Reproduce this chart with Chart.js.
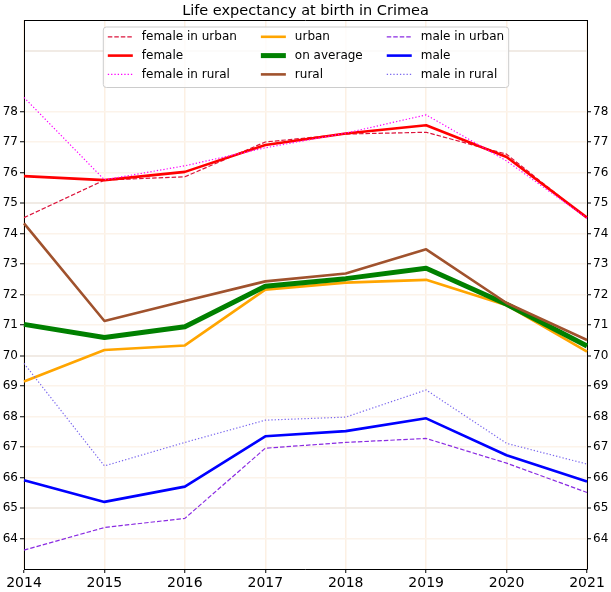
<!DOCTYPE html>
<html>
<head>
<meta charset="utf-8">
<script src="https://cdn.jsdelivr.net/npm/chart.js@4"></script>
<style>
  body { margin: 0; background: #fff; }
  #wrap { width: 611px; height: 592px; }
</style>
</head>
<body>
<div id="wrap"><canvas id="lifeChart" width="611" height="592"></canvas></div>
<script>
const years = ['2014', '2015', '2016', '2017', '2018', '2019', '2020', '2021'];

const femaleUrban = [74.52, 75.75, 75.86, 77.00, 77.26, 77.32, 76.60, 74.50];
const female      = [75.88, 75.75, 76.02, 76.90, 77.28, 77.55, 76.51, 74.52];
const femaleRural = [78.46, 75.76, 76.22, 76.81, 77.29, 77.89, 76.38, 74.50];
const urban       = [69.15, 70.18, 70.33, 72.16, 72.39, 72.48, 71.65, 70.13];
const average     = [71.02, 70.59, 70.94, 72.27, 72.52, 72.86, 71.68, 70.31];
const rural       = [74.33, 71.13, 71.79, 72.43, 72.69, 73.48, 71.72, 70.51];
const maleUrban   = [63.62, 64.36, 64.66, 66.96, 67.15, 67.28, 66.47, 65.51];
const male        = [65.91, 65.20, 65.70, 67.35, 67.52, 67.94, 66.73, 65.87];
const maleRural   = [69.74, 66.38, 67.15, 67.88, 67.98, 68.87, 67.12, 66.44];

const yTicks = [64, 65, 66, 67, 68, 69, 70, 71, 72, 73, 74, 75, 76, 77, 78];

const FONT = '"DejaVu Sans", sans-serif';

function line(label, data, color, width, dash) {
    return {
        label: label,
        data: data,
        borderColor: color,
        backgroundColor: color,
        borderWidth: width,
        borderDash: dash,
        borderJoinStyle: 'round',
        pointRadius: 0,
        fill: false,
        tension: 0
    };
}

const datasets = [
    line('female in urban', femaleUrban, '#dc143c', 1.2, [4.5, 2]),
    line('female', female, '#ff0000', 2.6, []),
    line('female in rural', femaleRural, '#ff00ff', 1.2, [1.3, 2]),
    line('urban', urban, '#ffa500', 2.6, []),
    line('on average', average, '#008000', 5, []),
    line('rural', rural, '#a0522d', 2.6, []),
    line('male in urban', maleUrban, '#8a2be2', 1.2, [4.5, 2]),
    line('male', male, '#0000ff', 2.6, []),
    line('male in rural', maleRural, '#7b68ee', 1.2, [1.3, 2])
];
// later datasets drawn on top, like matplotlib
datasets.forEach((d, i) => { d.order = datasets.length - i; });

// top spine of the axes box
const frame = {
    id: 'frame',
    afterDraw(chart) {
        const a = chart.chartArea, ctx = chart.ctx;
        ctx.save();
        ctx.strokeStyle = '#000';
        ctx.lineWidth = 1;
        ctx.beginPath();
        ctx.moveTo(a.left, Math.round(a.top) + 0.5);
        ctx.lineTo(a.right, Math.round(a.top) + 0.5);
        ctx.stroke();
        ctx.restore();
    }
};

// three-column legend, column-major like matplotlib
const legendBox = {
    id: 'legendBox',
    afterDraw(chart) {
        const ctx = chart.ctx, a = chart.chartArea;
        const ds = chart.data.datasets;
        const handle = 25, textPad = 9, colGap = 24, pad = 4.5;
        ctx.save();
        ctx.font = '12px ' + FONT;
        const cols = [[0, 1, 2], [3, 4, 5], [6, 7, 8]];
        const colW = cols.map(c => Math.max(...c.map(i => ctx.measureText(ds[i].label).width)));
        let w = pad * 2;
        colW.forEach((cw, k) => { w += handle + textPad + cw + (k < cols.length - 1 ? colGap : 0); });
        const h = 60.5;
        const left = (a.left + a.right) / 2 - w / 2 + 0.5;
        const top = a.top + 7;

        ctx.beginPath();
        ctx.roundRect(left, top, w, h, 3);
        ctx.fillStyle = 'rgba(255,255,255,0.8)';
        ctx.fill();
        ctx.strokeStyle = '#cccccc';
        ctx.lineWidth = 1;
        ctx.stroke();

        let x = left + pad;
        cols.forEach((c, k) => {
            c.forEach((i, r) => {
                const d = ds[i];
                const y = top + 9.8 + r * 18.8;
                ctx.beginPath();
                ctx.setLineDash(d.borderDash);
                ctx.strokeStyle = d.borderColor;
                ctx.lineWidth = d.borderWidth;
                ctx.moveTo(x, y);
                ctx.lineTo(x + handle, y);
                ctx.stroke();
                ctx.setLineDash([]);
                ctx.fillStyle = '#000';
                ctx.textBaseline = 'middle';
                ctx.textAlign = 'left';
                ctx.fillText(d.label, x + handle + textPad, y + 0.5);
            });
            x += handle + textPad + colW[k] + colGap;
        });
        ctx.restore();
    }
};

function yGridColor(ctx) {
    const v = ctx.tick ? ctx.tick.value : 0;
    if (v === 63 || v === 79 || v === 81) return 'rgba(0,0,0,0)';
    return v % 5 === 0 ? '#f1ebe5' : '#fcf3ea';
}

function yAxis(position) {
    return {
        type: 'linear',
        position: position,
        min: 63,
        max: 81,
        afterFit(scale) { scale.width = 24; },
        ticks: {
            stepSize: 1,
            autoSkip: false,
            padding: 2,
            color: '#000',
            font: { family: FONT, size: 12 },
            callback: v => yTicks.includes(v) ? v : ''
        },
        grid: {
            drawOnChartArea: position === 'left',
            color: yGridColor,
            lineWidth: ctx => (ctx.tick && ctx.tick.value % 5 === 0) ? 2 : 1.5,
            tickLength: 4,
            tickColor: ctx => yTicks.includes(ctx.tick ? ctx.tick.value : 0) ? '#000' : 'rgba(0,0,0,0)',
            tickWidth: 1
        },
        border: { color: '#000', width: 1 }
    };
}

new Chart(document.getElementById('lifeChart'), {
    type: 'line',
    data: { labels: years, datasets: datasets },
    options: {
        responsive: false,
        animation: false,
        layout: { padding: 0 },
        plugins: {
            legend: { display: false },
            tooltip: { enabled: false },
            title: {
                display: true,
                text: 'Life expectancy at birth in Crimea',
                color: '#000',
                font: { family: FONT, size: 14.5, weight: 'normal' },
                padding: { top: 2.6, bottom: 0 }
            }
        },
        scales: {
            x: {
                offset: false,
                afterFit(scale) { scale.height = 23; },
                ticks: {
                    padding: 2,
                    color: '#000',
                    maxRotation: 0,
                    font: { family: FONT, size: 14 }
                },
                grid: {
                    offset: false,
                    color: '#fcf0e3',
                    lineWidth: 1.5,
                    tickLength: 4,
                    tickColor: '#000',
                    tickWidth: 1
                },
                border: { color: '#000', width: 1 }
            },
            y: yAxis('left'),
            y2: yAxis('right')
        }
    },
    plugins: [frame, legendBox]
});
</script>
</body>
</html>
